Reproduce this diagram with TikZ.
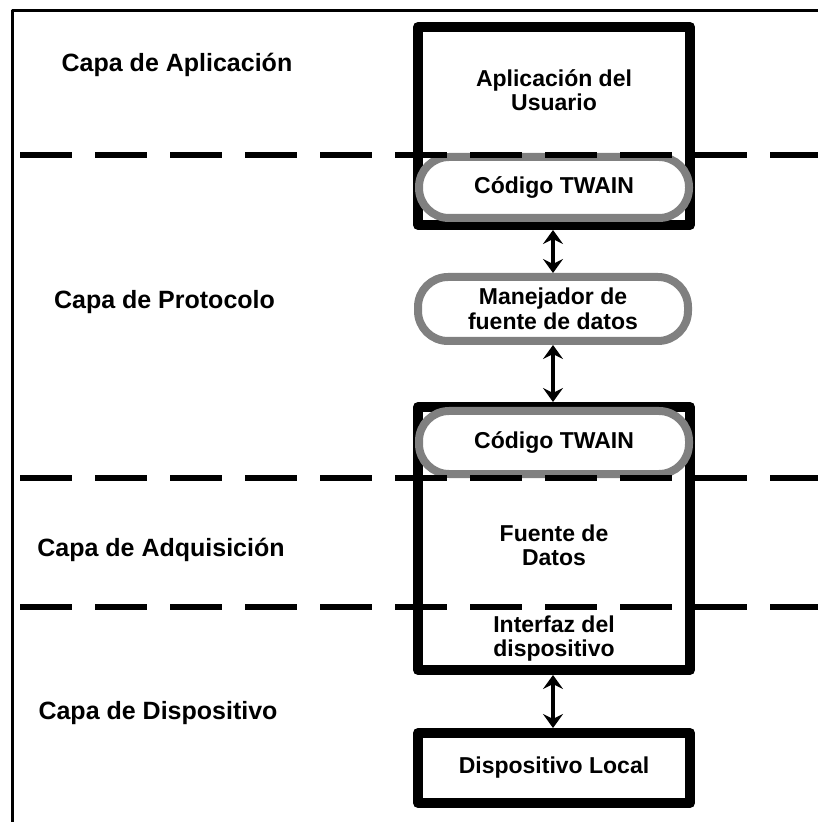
\documentclass[tikz,border=0pt]{standalone}
\usepackage{fontspec}
\setmainfont{Liberation Sans}
\usetikzlibrary{arrows.meta}
\begin{document}
\begin{tikzpicture}[x=0.5pt,y=-0.5pt,>={Stealth[length=7pt,width=10pt,inset=2.5pt]}, line join=round,
	capa/.style={inner sep=0pt,font=\fontsize{12.5}{14}\selectfont\bfseries},
	texto/.style={inner sep=0pt,align=center,font=\fontsize{11.5}{12}\selectfont\bfseries},
	caja/.style={draw,fill=white,line width=5pt,minimum width=136pt,inner sep=0pt},
	pildora/.style={draw=gray,fill=white,line width=4pt,rounded corners=15pt,minimum width=135pt,
		inner sep=0pt,align=center,font=\fontsize{11.5}{12.5}\selectfont\bfseries},
	flecha/.style={<->,line width=2pt}]
	\useasboundingbox (0,0) rectangle (818,822);
	% marco
	\draw[line width=1.5pt] (12,822)--(12,11)--(818,11);
	% capas
	\node[capa] (aplic) at (177,65) {Capa de Aplicación};
	\node[capa] (proto) at (164.5,302) {Capa de Protocolo};
	\node[capa] (adqui) at (161,550) {Capa de Adquisición};
	\node[capa] (dispo) at (158,713) {Capa de Dispositivo};
	% cajas
	\node[caja,minimum height=99pt] (usuario) at (554,126) {};
	\node[caja,minimum height=131.5pt] (fuente) at (554,538.5) {};
	\node[caja,minimum height=35pt,font=\fontsize{11.5}{12}\selectfont\bfseries] (local) at (554,768) {Dispositivo Local};
	\node[texto] (usrtxt) at (554,90) {Aplicación del\\Usuario};
	\node[texto] (fnttxt) at (554,545.5) {Fuente de\\Datos};
	\node[texto] (inttxt) at (554,638.5) {Interfaz del\\dispositivo};
	% pildoras
	\node[pildora,minimum height=30.5pt] (twaina) at (554,187.5) {Código TWAIN};
	\node[pildora,minimum height=32pt] (manej) at (553,309) {Manejador de\\fuente de datos};
	\node[pildora,minimum height=31.5pt] (twainb) at (554,442.5) {Código TWAIN};
	% flechas
	\draw[flecha] (usuario.south -| manej.north) -- (manej.north);
	\draw[flecha] (manej.south) -- (fuente.north -| manej.south);
	\draw[flecha] (fuente.south -| manej.south) -- (local.north -| manej.south);
	% separadores
	\foreach \y in {155,478,607}{
		\draw[line width=3pt,dash pattern=on 26pt off 11.5pt] (20,\y)--(818,\y);
	}
\end{tikzpicture}
\end{document}
